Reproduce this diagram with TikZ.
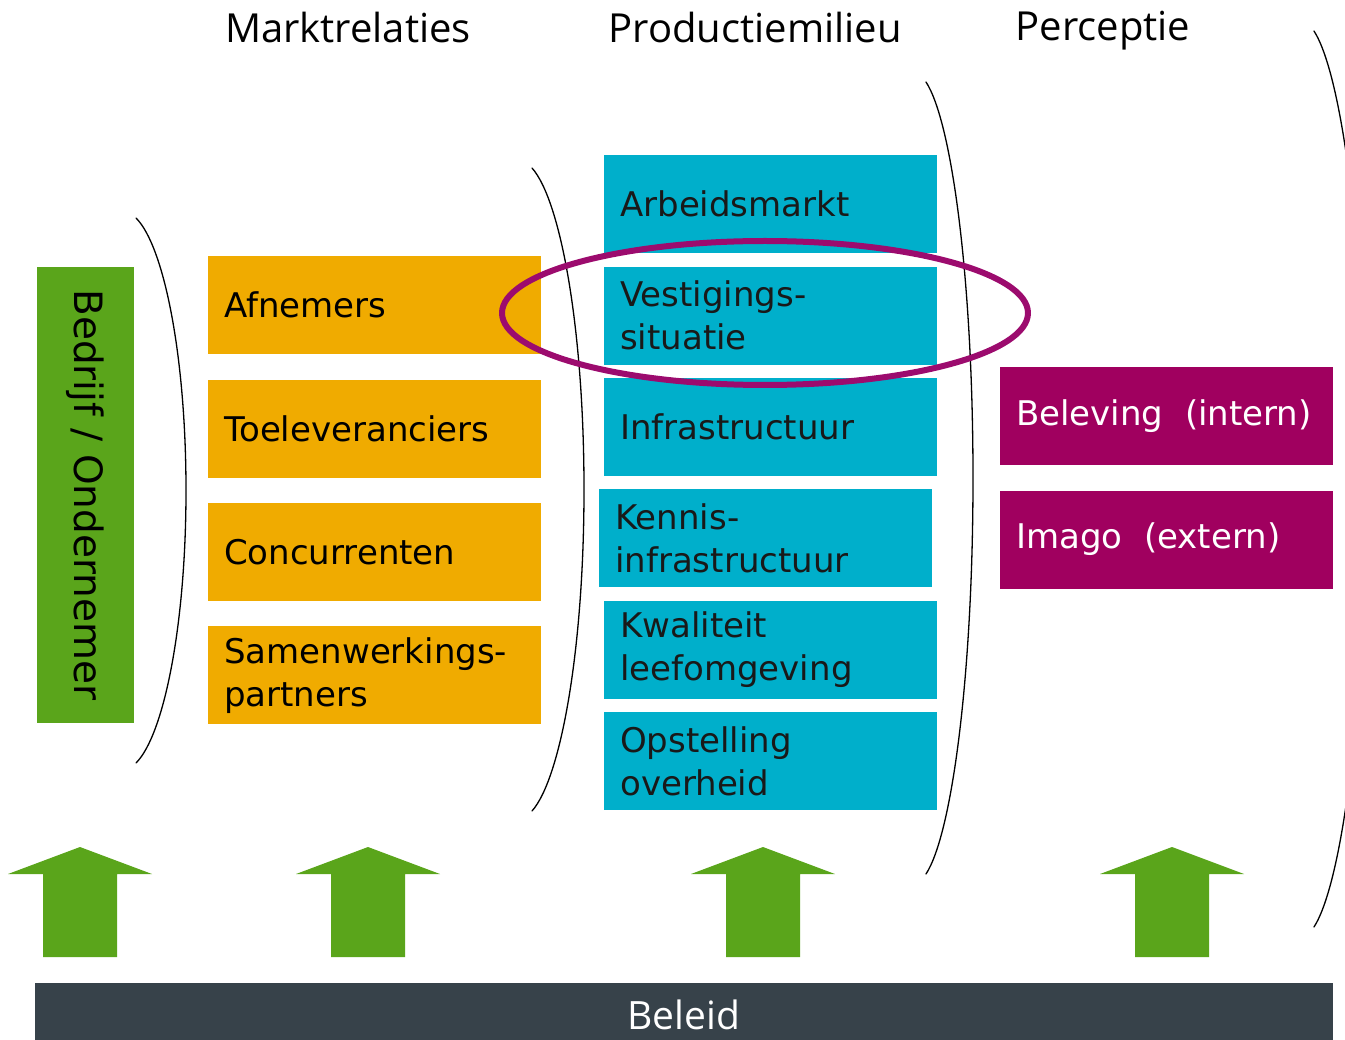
\documentclass[tikz,border=0pt]{standalone}
\usepackage{fontspec}
\setmainfont{DejaVu Sans}
\newfontfamily\kopfont{Open Sans}
\usetikzlibrary{positioning}
\definecolor{groen}{HTML}{5AA51B}
\definecolor{oranje}{HTML}{F0AB00}
\definecolor{cyaan}{HTML}{00AFCB}
\definecolor{paars}{HTML}{A0005F}
\definecolor{ring}{HTML}{9C0B6E}
\definecolor{leisteen}{HTML}{37424A}
\tikzset{
  vak/.style={rectangle, minimum height=98pt, text width=301pt, inner xsep=16pt, inner ysep=0pt, align=left, font=\fontsize{34}{43}\selectfont},
  markt/.style={vak, fill=oranje},
  milieu/.style={vak, fill=cyaan, text=black!90},
  beeld/.style={vak, fill=paars, text=white},
  kop/.style={anchor=base, font=\kopfont\fontsize{40}{48}\selectfont},
  haak/.style={line width=1.3pt, line cap=round},
}
\begin{document}
\begin{tikzpicture}[x=1pt, y=-1pt, line join=round]
            \useasboundingbox (0,0) rectangle (1345,1040);
            \clip (0,0) rectangle (1345,1040);
            % kopjes
            \node[kop] (kmarkt) at (348,43) {Marktrelaties};
            \node[kop] (kmilieu) at (755,43) {Productiemilieu};
            \node[kop] (kbeeld) at (1103,41) {Perceptie};
            % bedrijf
            \node[fill=groen, rotate=-90, minimum width=456pt, minimum height=97pt, inner sep=0pt, font=\fontsize{39}{46}\selectfont] (bedrijf) at (85.5,495) {Bedrijf / Ondernemer};
            % marktrelaties
            \node[markt, anchor=north west] (afn) at (208,256) {Afnemers};
            \node[markt, below=25pt of afn] (toe) {Toeleveranciers};
            \node[markt, below=25pt of toe] (con) {Concurrenten};
            \node[markt, below=25pt of con] (sam) {Samenwerkings-\\partners};
            % productiemilieu
            \node[milieu, anchor=north west] (arb) at (604,155) {Arbeidsmarkt};
            \node[milieu, below=13pt of arb] (ves) {Vestigings-\\situatie};
            \node[milieu, below=13pt of ves] (inf) {Infrastructuur};
            \node[milieu, below=13pt of inf, xshift=-5pt] (ken) {Kennis-\\infrastructuur};
            \node[milieu, below=13pt of ken, xshift=5pt] (kwa) {Kwaliteit\\leefomgeving};
            \node[milieu, below=13pt of kwa] (ops) {Opstelling\\overheid};
            % perceptie
            \node[beeld, anchor=north west] (bel) at (1000,367) {Beleving\hspace{0.3em} (intern)};
            \node[beeld, below=25pt of bel] (ima) {Imago\hspace{0.3em} (extern)};
            % haken
            \foreach \xa/\xm/\ya/\yb in {136/186/218/763, 532/584/168/811, 926/973/82/874, 1314/1366/31/927}{
              \pgfmathsetmacro\w{\xm-\xa}\pgfmathsetmacro\h{\yb-\ya}\pgfmathsetmacro\ym{(\ya+\yb)/2}
              \draw[haak] (\xa,\ya) .. controls (\xa+0.55*\w,\ya+0.05*\h) and (\xm,\ya+0.25*\h) .. (\xm,\ym)
                .. controls (\xm,\yb-0.25*\h) and (\xa+0.55*\w,\yb-0.05*\h) .. (\xa,\yb);
            }
            % ring om vestigingssituatie
            \draw[ring, line width=6pt] (765,313) ellipse [x radius=263, y radius=72];
            % pijlen
            \foreach \xc in {80,368,763,1172}
              \fill[groen] (\xc,847) -- (\xc+72,874) -- (\xc+37,874) -- (\xc+37,957) -- (\xc-37,957) -- (\xc-37,874) -- (\xc-72,874) -- cycle;
            % beleid
            \node[fill=leisteen, text=white, minimum width=1298pt, minimum height=64pt, inner sep=0pt, font=\kopfont\fontsize{39}{46}\selectfont] (beleid) at (684,1015) {Beleid};
\end{tikzpicture}
\end{document}
